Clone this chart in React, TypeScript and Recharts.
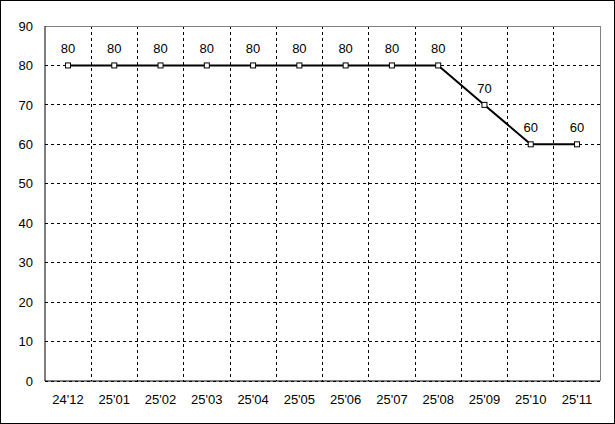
import { LineChart, Line, XAxis, YAxis, CartesianGrid, LabelList } from "recharts"

const months = ["24'12", "25'01", "25'02", "25'03", "25'04", "25'05", "25'06", "25'07", "25'08", "25'09", "25'10", "25'11"]
const values = [80, 80, 80, 80, 80, 80, 80, 80, 80, 70, 60, 60]
const yTicks = [0, 10, 20, 30, 40, 50, 60, 70, 80, 90]

const data = months.map((m, i) => ({ month: m, value: values[i] }))

const font = "'Liberation Sans', Arial, sans-serif"

// little hollow square markers
const SquareDot = (props: any) => {
  const { cx, cy } = props
  if (cx == null || cy == null) return null
  return <rect x={cx - 2.5} y={cy - 2.5} width={5} height={5} fill="#fff" stroke="#000" strokeWidth={1} />
}

export default function App() {
  return (
    <div
      style={{
        position: "absolute",
        top: 0,
        left: 0,
        width: 615,
        height: 424,
        border: "1px solid #000",
        boxSizing: "border-box",
        background: "#fff",
        fontFamily: font,
      }}
    >
      <LineChart width={613} height={422} data={data} margin={{ top: 25, right: 14, left: 0, bottom: 12 }}>
        <CartesianGrid
          stroke="#000"
          strokeDasharray="3 3"
          shapeRendering="crispEdges"
          verticalCoordinatesGenerator={({ offset }: any) =>
            months.slice(1).map((_, i) => offset.left + (offset.width * (i + 1)) / months.length)
          }
        />
        {/* gray frame on top and right */}
        <CartesianGrid
          stroke="#808080"
          shapeRendering="crispEdges"
          horizontalCoordinatesGenerator={({ offset }: any) => [offset.top]}
          verticalCoordinatesGenerator={({ offset }: any) => [offset.left + offset.width]}
        />
        <XAxis
          dataKey="month"
          axisLine={{ stroke: "#000" }}
          tickLine={false}
          tickMargin={8}
          height={30}
          padding={{ left: 23, right: 23 }}
          tick={{ fill: "#000", fontSize: 13, fontFamily: font }}
          interval={0}
        />
        <YAxis
          domain={[0, 90]}
          ticks={yTicks}
          width={44}
          axisLine={{ stroke: "#000" }}
          tickLine={false}
          tickMargin={6}
          tick={{ fill: "#000", fontSize: 13, fontFamily: font }}
        />
        <Line
          type="linear"
          dataKey="value"
          stroke="#000"
          strokeWidth={2}
          dot={<SquareDot />}
          activeDot={false}
          isAnimationActive={false}
        >
          <LabelList dataKey="value" position="top" offset={12} fill="#000" fontSize={13} fontFamily={font} />
        </Line>
      </LineChart>
    </div>
  )
}
